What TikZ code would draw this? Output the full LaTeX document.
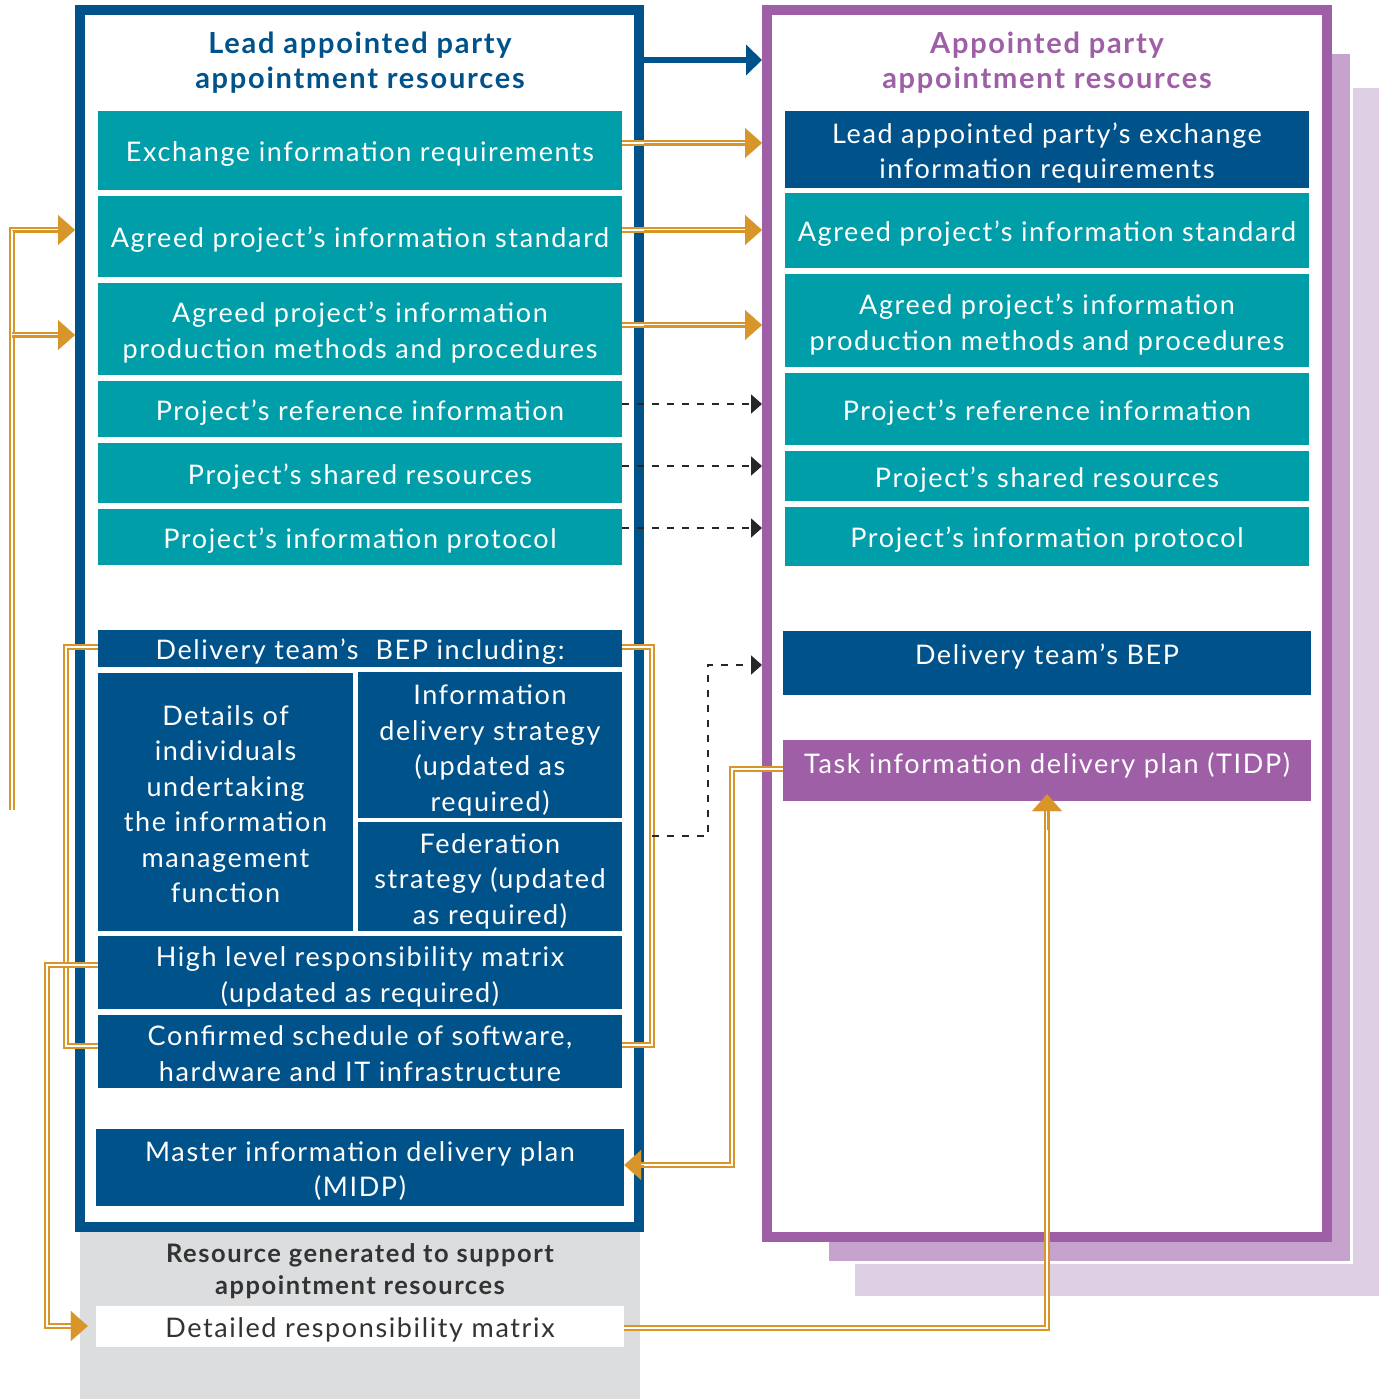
\documentclass[tikz,border=0pt]{standalone}
\usepackage{fontspec}
\setmainfont{Lato}[LetterSpace=6]
\usetikzlibrary{arrows.meta}
\definecolor{teal1}{RGB}{0,158,168}
\definecolor{dblue}{RGB}{0,82,139}
\definecolor{purp}{RGB}{158,95,166}
\definecolor{purpm}{RGB}{198,163,204}
\definecolor{purpl}{RGB}{223,207,228}
\definecolor{orng}{RGB}{216,150,42}
\definecolor{gry}{RGB}{220,221,223}
\definecolor{dgray}{RGB}{51,51,51}
\newcommand\myfnt{\fontsize{27}{35.5}\selectfont}
\newcommand\myttl{\fontsize{29}{35}\selectfont\bfseries}
\newcommand\mygttl{\fontsize{25.5}{32}\selectfont\bfseries}
\newcommand\firstln[1]{\rule{0pt}{#1}}
\tikzset{
  box0/.style={rectangle, inner sep=0pt, align=center, text=white, font=\myfnt},
  box/.style={box0, execute at begin node={\rule{0pt}{29pt}}, execute at end node={\rule[-6.6pt]{0pt}{6.6pt}}},
  tealbox/.style={box, fill=teal1},
  bluebox/.style={box, fill=dblue},
  bluebox0/.style={box0, fill=dblue},
  purpbox0/.style={box0, fill=purp},
  whitebox/.style={box, fill=white, text=dgray},
  ttl/.style={align=center, inner sep=0pt, font=\myttl},
  odbl/.style={draw=orng, line width=2pt, double=white, double distance=1.8pt},
  otip/.style={draw=orng, line width=0.1pt, -{Triangle[length=17pt,width=30pt]}},
  dsh/.style={draw=black!85, line width=1.8pt, dash pattern=on 7pt off 8pt, -{Triangle[length=11pt,width=19pt]}},
}
\begin{document}
\begin{tikzpicture}[x=1pt,y=-1pt]
\useasboundingbox (0,0) rectangle (1386,1399);
% shadows of right frame
\fill[purpl] (855,88) rectangle (1379,1296);
\filldraw[fill=purpm, draw=white, line width=3pt] (827,53) rectangle (1351,1262);
% gray support area
\node[rectangle, fill=gry, inner sep=0pt, minimum width=560pt, minimum height=167pt] (gray) at (360,1315.5) {};
% frames
\node[rectangle, draw=dblue, fill=white, line width=10pt, inner sep=0pt, minimum width=559pt, minimum height=1217pt] (lframe) at (359.5,618.5) {};
\node[rectangle, draw=purp, fill=white, line width=10pt, inner sep=0pt, minimum width=560pt, minimum height=1227pt] (rframe) at (1047,623.5) {};
% titles
\node[ttl, text=dblue] (ltitle) at (360,63) {Lead appointed party\\appointment resources};
\node[ttl, text=purp] (rtitle) at (1047,63) {Appointed party\\appointment resources};
\node[ttl, text=dgray, font=\mygttl] (gtitle) at (360,1271) {Resource generated to support\\appointment resources};
% left column
\node[tealbox, minimum width=524pt, minimum height=79pt] (e1) at (360,150.5) {Exchange information requirements};
\node[tealbox, minimum width=524pt, minimum height=81pt] (a2) at (360,236.5) {Agreed project's information standard};
\node[tealbox, minimum width=524pt, minimum height=92pt] (a3) at (360,329) {\firstln{30pt}Agreed project’s information\\production methods and procedures};
\node[tealbox, minimum width=524pt, minimum height=56pt] (ref) at (360,409) {Project’s reference information};
\node[tealbox, minimum width=524pt, minimum height=60pt] (shr) at (360,473) {Project's shared resources};
\node[tealbox, minimum width=524pt, minimum height=56pt] (prot) at (360,537) {Project’s information protocol};
\node[bluebox, minimum width=524pt, minimum height=37pt] (bep) at (360,648.5) {Delivery team’s\ \ BEP including:};
\node[bluebox, minimum width=255pt, minimum height=258pt] (ind) at (225.5,802) {\firstln{31pt}Details of\\individuals\\undertaking\\the information\\management\\function};
\node[bluebox, minimum width=264pt, minimum height=144pt] (ids) at (490,745) {\firstln{33pt}Information\\delivery strategy\\(updated as\\required)};
\node[bluebox, minimum width=264pt, minimum height=109pt] (fed) at (490,876.5) {\firstln{31pt}Federation\\strategy (updated\\as required)};
\node[bluebox, minimum width=524pt, minimum height=73pt] (hl) at (360,972.5) {\firstln{31pt}High level responsibility matrix\\(updated as required)};
\node[bluebox, minimum width=524pt, minimum height=73pt] (conf) at (360,1051.5) {\firstln{31pt}Confirmed schedule of software,\\hardware and IT infrastructure};
\node[bluebox, minimum width=528pt, minimum height=77pt] (midp) at (360,1167.5) {\firstln{30pt}Master information delivery plan\\(MIDP)};
\node[whitebox, minimum width=528pt, minimum height=41pt] (det) at (360,1326.5) {Detailed responsibility matrix};
% right column
\node[bluebox, minimum width=524pt, minimum height=77pt] (r1) at (1047,149.5) {\firstln{30pt}Lead appointed party’s exchange\\information requirements};
\node[tealbox, minimum width=524pt, minimum height=75pt] (r2) at (1047,230.5) {Agreed project’s information standard};
\node[tealbox, minimum width=524pt, minimum height=93pt] (r3) at (1047,320.5) {\firstln{31pt}Agreed project’s information\\production methods and procedures};
\node[tealbox, minimum width=524pt, minimum height=72pt] (r4) at (1047,409) {Project’s reference information};
\node[tealbox, minimum width=524pt, minimum height=50pt] (r5) at (1047,476) {Project's shared resources};
\node[tealbox, minimum width=524pt, minimum height=59pt] (r6) at (1047,536.5) {Project's information protocol};
\node[bluebox0, minimum width=528pt, minimum height=64pt] (rbep) at (1047,663) {\raisebox{18pt}{Delivery team’s BEP}};
\node[purpbox0, minimum width=528pt, minimum height=61pt] (tidp) at (1047,770.5) {\raisebox{14pt}{Task information delivery plan (TIDP)}};
% blue main arrow
\draw[dblue, line width=6pt, -{Triangle[length=16pt,width=30pt]}] (lframe.east |- 0,60) -- (rframe.west |- 0,60);
% orange arrows to right frame
\foreach \nd/\yy in {e1/143, a2/230, a3/325}{
  \draw[odbl, shorten >=16pt] (\nd.east |- 0,\yy) -- (rframe.west |- 0,\yy);
  \draw[otip] (lframe.east |- 0,\yy) -- (rframe.west |- 0,\yy);
}
% dashed arrows
\foreach \nd/\yy in {ref/404, shr/466, prot/528}{
  \draw[dsh] (\nd.east |- 0,\yy) -- (rframe.west |- 0,\yy);
}
% left feed
\coordinate (lf) at (12,810);
\draw[odbl, shorten >=16pt] (lf) |- (lframe.west |- 0,230);
\draw[otip] (lf |- 0,230) -- (lframe.west |- 0,230);
\draw[odbl, shorten >=16pt] (lf |- 0,335) -- (lframe.west |- 0,335);
\draw[otip] (lf |- 0,335) -- (lframe.west |- 0,335);
% BEP brackets
\draw[odbl] (bep.west |- 0,647) -- ++(-32,0) |- (conf.west |- 0,1046);
\draw[odbl] (bep.east |- 0,647) -- ++(30,0) |- (conf.east |- 0,1045);
% dashed elbow to delivery team's BEP
\coordinate (bk) at (652,836);
\draw[dsh] (bk) -- ++(56,0) |- (rframe.west |- 0,665);
% high level -> detailed responsibility matrix
\draw[odbl, shorten >=24pt] (hl.west |- 0,965) -- ++(-51,0) |- (det.west |- 0,1326);
\draw[otip, shorten >=8pt] (gray.west |- 0,1326) -- (det.west |- 0,1326);
% TIDP -> MIDP
\draw[odbl, shorten >=16pt] (tidp.west |- 0,769) -- ++(-51,0) |- (midp.east |- 0,1165);
\draw[otip] (lframe.east |- 0,1165) -- (midp.east |- 0,1165);
% detailed -> TIDP
\draw[odbl, shorten >=9pt] (det.east |- 0,1328) -| (tidp.south);
\draw[otip, shorten >=-7pt] (tidp.south |- 0,830) -- (tidp.south);
\end{tikzpicture}
\end{document}
